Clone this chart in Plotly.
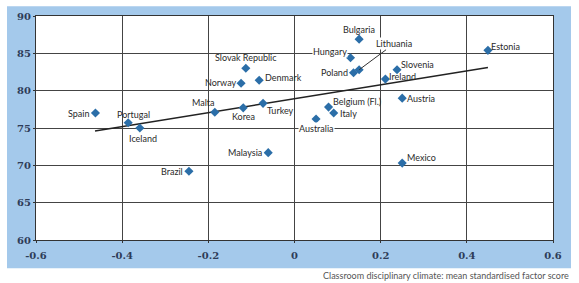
import plotly.graph_objects as go

countries = ["Spain", "Portugal", "Iceland", "Bulgaria", "Hungary", "Lithuania", "Poland",
             "Slovak Republic", "Norway", "Denmark", "Malta", "Korea", "Turkey",
             "Belgium (Fl.)", "Italy", "Australia", "Malaysia", "Brazil", "Estonia",
             "Slovenia", "Ireland", "Austria", "Mexico"]
climate = [-0.462, -0.386, -0.359, 0.150, 0.130, 0.150, 0.137,
           -0.113, -0.124, -0.082, -0.185, -0.119, -0.073,
           0.079, 0.091, 0.050, -0.061, -0.245, 0.449,
           0.238, 0.211, 0.250, 0.250]
score = [77.0, 75.7, 75.0, 86.9, 84.4, 82.8, 82.4,
         83.0, 81.0, 81.4, 77.1, 77.7, 78.3,
         77.8, 77.0, 76.2, 71.7, 69.2, 85.4,
         82.8, 81.55, 79.0, 70.3]
trend_x = [-0.463, 0.449]
trend_y = [74.6, 83.1]
x_ticks = [-0.6, -0.4, -0.2, 0, 0.2, 0.4, 0.6]
x_tick_text = ["-0.6", "-0.4", "-0.2", "0", "0.2", "0.4", "0.6"]
y_ticks = [60, 65, 70, 75, 80, 85, 90]
x_title = "Classroom disciplinary climate: mean standardised factor score"

# label placement: (xanchor, xshift, yshift, white background)
label_pos = {
    "Spain": ("right", -5, 0, False),
    "Portugal": ("center", 5, 8, False),
    "Iceland": ("center", 3, -10, False),
    "Bulgaria": ("center", 0, 10, False),
    "Hungary": ("right", -3, 6, True),
    "Poland": ("right", -5, 0, False),
    "Slovak Republic": ("center", 0, 11, False),
    "Norway": ("right", -4, 1, False),
    "Denmark": ("left", 5, 3, False),
    "Malta": ("center", -11, 10, False),
    "Korea": ("center", 0, -9, False),
    "Turkey": ("center", 17, -7, False),
    "Belgium (Fl.)": ("left", 3, 6, False),
    "Italy": ("left", 5, 0, False),
    "Australia": ("center", 0, -9, True),
    "Malaysia": ("right", -5, 0, False),
    "Brazil": ("right", -5, 0, False),
    "Estonia": ("left", 2, 4, False),
    "Slovenia": ("left", 3, 5, False),
    "Ireland": ("left", 3, 3, False),
    "Austria": ("left", 4, 0, False),
    "Mexico": ("left", 4, 6, False),
}

label_font = dict(family="Lato", size=9, color="#2a2a2a")
tick_font = dict(family="DejaVu Serif", size=10, color="#2e3c58", weight="bold")

fig = go.Figure()
fig.add_trace(go.Scatter(x=trend_x, y=trend_y, mode="lines",
                         line=dict(color="#222222", width=1.5), hoverinfo="skip"))
fig.add_trace(go.Scatter(x=climate, y=score, mode="markers",
                         marker=dict(symbol="diamond", size=7, color="#2b6ea8"),
                         text=countries))

annotations = []
for c, xv, yv in zip(countries, climate, score):
    if c == "Lithuania":
        annotations.append(dict(x=xv, y=yv, text=c, showarrow=True, arrowhead=0,
                                arrowwidth=1, arrowcolor="#333333", ax=35, ay=-26,
                                font=label_font, bgcolor="white", borderpad=0))
        continue
    xa, xs, ys, bg = label_pos[c]
    a = dict(x=xv, y=yv, text=c, showarrow=False, xanchor=xa, yanchor="middle",
             xshift=xs, yshift=ys, font=label_font, borderpad=0)
    if bg:
        a["bgcolor"] = "white"
    annotations.append(a)

annotations.append(dict(xref="paper", yref="paper", x=(571 - 36) / 517, y=(240 - 276) / 230,
                        text=x_title, showarrow=False, xanchor="right", yanchor="middle",
                        font=dict(family="Lato", size=9, color="#555555")))

shapes = [
    dict(type="rect", xref="paper", yref="paper", layer="below",
         x0=(7 - 36) / 517, x1=(571 - 36) / 517, y0=(240 - 269) / 230, y1=(240 - 0) / 230,
         fillcolor="#a4c9eb", line=dict(width=0)),
    dict(type="rect", xref="paper", yref="paper", layer="below",
         x0=0, x1=1, y0=0, y1=1, fillcolor="white", line=dict(width=0)),
]

fig.update_layout(
    width=579, height=283,
    margin=dict(l=36, r=26, t=10, b=43),
    paper_bgcolor="white", plot_bgcolor="white",
    showlegend=False,
    annotations=annotations, shapes=shapes,
    xaxis=dict(range=[-0.6, 0.6], tickvals=x_ticks, ticktext=x_tick_text,
               showgrid=True, gridcolor="#444444", gridwidth=1, zeroline=False,
               showline=True, linecolor="#333333", linewidth=1, mirror=True,
               ticks="outside", ticklen=2, tickcolor="#333333",
               ticklabelstandoff=4, tickfont=tick_font),
    yaxis=dict(range=[60, 90], tickvals=y_ticks,
               showgrid=True, gridcolor="#444444", gridwidth=1, zeroline=False,
               showline=True, linecolor="#333333", linewidth=1, mirror=True,
               ticks="outside", ticklen=2, tickcolor="#333333",
               tickfont=tick_font),
)

fig.write_html("out.html")
